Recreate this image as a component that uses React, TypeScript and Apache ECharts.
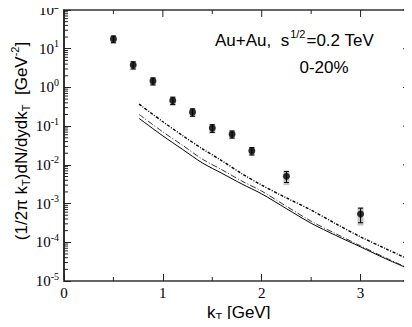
import React, { useEffect, useRef } from "react";
import * as echarts from "echarts";

// measured spectrum
const kT = [0.5, 0.7, 0.9, 1.1, 1.3, 1.5, 1.7, 1.9, 2.25, 3.0];
const yieldVals = [17.8, 3.8, 1.46, 0.46, 0.23, 0.089, 0.062, 0.023, 0.0051, 0.00054];
const statErr = [3.5, 0.8, 0.3, 0.1, 0.05, 0.02, 0.013, 0.005, 0.0016, 0.00022];
const sysErr = [4.3, 1.0, 0.37, 0.12, 0.06, 0.024, 0.016, 0.006, 0.0021, 0.00027];

// theory curves
const thKT = [0.76, 1.0, 1.2, 1.4, 1.6, 1.8, 2.0, 2.25, 2.5, 2.75, 3.0, 3.25, 3.5];
const thDashed = [0.37, 0.13, 0.057, 0.026, 0.0126, 0.0059, 0.003, 0.0014, 6.8e-4, 3.0e-4, 1.38e-4, 6.9e-5, 3.5e-5];
const thDashDot = [0.2, 0.071, 0.032, 0.014, 0.0074, 0.0038, 0.0021, 8.5e-4, 3.5e-4, 1.66e-4, 8.1e-5, 4.0e-5, 2.04e-5];
const thSolid = [0.158, 0.056, 0.025, 0.0112, 0.006, 0.0032, 0.00178, 7.4e-4, 3.1e-4, 1.5e-4, 7.6e-5, 3.8e-5, 2.0e-5];

// axes
const X_MIN = 0;
const X_MAX = 3.5;
const Y_MIN = 1e-5;
const Y_MAX = 100;
const xMajorTicks = [0, 1, 2, 3];
const xMinorTicks = [0.5, 1.5, 2.5];
const yDecades = [-5, -4, -3, -2, -1, 0, 1, 2];
const yMantissas = [2, 3, 4, 5, 6, 7, 8, 9];

const serif = "'Liberation Serif', 'DejaVu Serif', serif";
const sans = "'Liberation Sans', Arial, sans-serif";

export default function App() {
  const ref = useRef<HTMLDivElement>(null);
  useEffect(() => {
    if (!ref.current) return;
    const chart = echarts.init(ref.current, null, { renderer: "svg" });

    // tick marks: [x, y, dx, dy] anchored on the frame
    const ticks: number[][] = [];
    xMajorTicks.forEach((x) => ticks.push([x, Y_MAX, 0, 7]));
    xMinorTicks.forEach((x) => {
      ticks.push([x, Y_MIN, 0, -4]);
      ticks.push([x, Y_MAX, 0, 4]);
    });
    yDecades.forEach((d) => {
      const v = Math.pow(10, d);
      ticks.push([X_MAX, v, -7, 0]);
      if (d < 2)
        yMantissas.forEach((m) => {
          ticks.push([X_MIN, m * v, 4, 0]);
          ticks.push([X_MAX, m * v, -4, 0]);
        });
    });

    const zip = (xs: number[], ys: number[]) => xs.map((x, i) => [x, ys[i]]);

    const option: any = {
      animation: false,
      grid: {
        left: 64,
        right: 2,
        top: 10,
        bottom: 46,
        outerBoundsMode: "none",
        show: true,
        borderColor: "#666",
        borderWidth: 2,
        backgroundColor: "transparent",
      },
      xAxis: {
        type: "value",
        min: X_MIN,
        max: X_MAX,
        interval: 1,
        splitLine: { show: false },
        axisLine: { lineStyle: { color: "#666", width: 2 } },
        axisTick: { inside: true, length: 7, lineStyle: { color: "#222", width: 1 } },
        axisLabel: {
          margin: 4,
          color: "#000",
          fontFamily: serif,
          fontSize: 15,
          formatter: (v: number) => (Math.abs(v - Math.round(v)) < 1e-9 && v < 3.4 ? String(Math.round(v)) : ""),
        },
      },
      yAxis: {
        type: "log",
        logBase: 10,
        min: Y_MIN,
        max: Y_MAX,
        splitNumber: 7,
        splitLine: { show: false },
        axisLine: { lineStyle: { color: "#222", width: 1.5 } },
        axisTick: { inside: true, length: 7, lineStyle: { color: "#222", width: 1 } },
        axisLabel: {
          margin: 5,
          color: "#000",
          formatter: (v: number) => {
            const e = Math.round(Math.log10(v));
            return `{b|10}{s|${e}}`;
          },
          rich: {
            b: { fontFamily: serif, fontSize: 15, color: "#000" },
            s: { fontFamily: serif, fontSize: 10, color: "#000", padding: [0, 0, 10, 0] },
          },
        },
      },
      series: [
        {
          type: "custom",
          name: "ticks",
          silent: true,
          clip: false,
          data: ticks,
          renderItem: (params: any, api: any) => {
            const p = api.coord([api.value(0), api.value(1)]);
            return {
              type: "line",
              shape: { x1: p[0], y1: p[1], x2: p[0] + api.value(2), y2: p[1] + api.value(3) },
              style: { stroke: "#222", lineWidth: 1 },
            };
          },
        },
        {
          type: "line",
          name: "dashed",
          data: zip(thKT, thDashed),
          symbol: "none",
          smooth: 0.3,
          lineStyle: { color: "#000", width: 1.4, type: [3, 1.5, 1, 1.5] },
        },
        {
          type: "line",
          name: "dashdot",
          data: zip(thKT, thDashDot),
          symbol: "none",
          smooth: 0.3,
          lineStyle: { color: "#333", width: 1, type: [6, 2, 1, 2] },
        },
        {
          type: "line",
          name: "solid",
          data: zip(thKT, thSolid),
          symbol: "none",
          smooth: 0.3,
          lineStyle: { color: "#000", width: 1 },
        },
        {
          type: "custom",
          name: "errors",
          data: kT.map((x, i) => [x, yieldVals[i], statErr[i], sysErr[i]]),
          renderItem: (params: any, api: any) => {
            const x = api.value(0);
            const y = api.value(1);
            const se = api.value(2);
            const sy = api.value(3);
            const c = api.coord([x, y]);
            const sTop = api.coord([x, y + sy]);
            const sBot = api.coord([x, Math.max(y - sy, 1e-9)]);
            const eTop = api.coord([x, y + se]);
            const eBot = api.coord([x, Math.max(y - se, 1e-9)]);
            const blk = { stroke: "#000", lineWidth: 1 };
            return {
              type: "group",
              children: [
                {
                  type: "rect",
                  shape: { x: c[0] - 3, y: sTop[1], width: 6, height: sBot[1] - sTop[1] },
                  style: { fill: "#c4c4c4" },
                },
                { type: "line", shape: { x1: c[0], y1: eTop[1], x2: c[0], y2: eBot[1] }, style: blk },
                { type: "line", shape: { x1: c[0] - 2.5, y1: eTop[1], x2: c[0] + 2.5, y2: eTop[1] }, style: blk },
                { type: "line", shape: { x1: c[0] - 2.5, y1: eBot[1], x2: c[0] + 2.5, y2: eBot[1] }, style: blk },
              ],
            };
          },
        },
        {
          type: "scatter",
          name: "data",
          data: zip(kT, yieldVals),
          symbol: "circle",
          symbolSize: 7,
          itemStyle: { color: "#000" },
        },
      ],
      graphic: [
        {
          type: "text",
          x: 215,
          y: 40,
          style: {
            text: "{a|Au+Au,  s}{s|1/2}{a|=0.2 TeV}",
            verticalAlign: "middle",
            align: "left",
            rich: {
              a: { fontFamily: sans, fontSize: 17, fill: "#000" },
              s: { fontFamily: sans, fontSize: 11, fill: "#000", padding: [0, 1, 12, 1] },
            },
          },
        },
        {
          type: "text",
          x: 324,
          y: 67,
          style: {
            text: "0-20%",
            fontFamily: sans,
            fontSize: 17,
            fill: "#000",
            align: "center",
            verticalAlign: "middle",
          },
        },
        {
          type: "text",
          x: 207,
          y: 312,
          style: {
            text: "{a|k}{t|T}{a| [GeV]}",
            verticalAlign: "middle",
            align: "left",
            rich: {
              a: { fontFamily: sans, fontSize: 17, fill: "#000" },
              t: { fontFamily: sans, fontSize: 11, fill: "#000", padding: [10, 0, 0, 0] },
            },
          },
        },
        {
          type: "text",
          x: 21,
          y: 141,
          rotation: Math.PI / 2,
          style: {
            text: "{a|(1/2π k}{t|T}{a|)dN/dydk}{t|T}{a|  [GeV}{s|-2}{a|]}",
            verticalAlign: "middle",
            align: "center",
            rich: {
              a: { fontFamily: sans, fontSize: 17, fill: "#000" },
              t: { fontFamily: sans, fontSize: 11, fill: "#000", padding: [10, 0, 0, 0] },
              s: { fontFamily: sans, fontSize: 11, fill: "#000", padding: [0, 0, 12, 0] },
            },
          },
        },
      ],
    };
    chart.setOption(option);
    return () => chart.dispose();
  }, []);
  return <div ref={ref} style={{ width: 412, height: 327, margin: -8 }} />;
}
